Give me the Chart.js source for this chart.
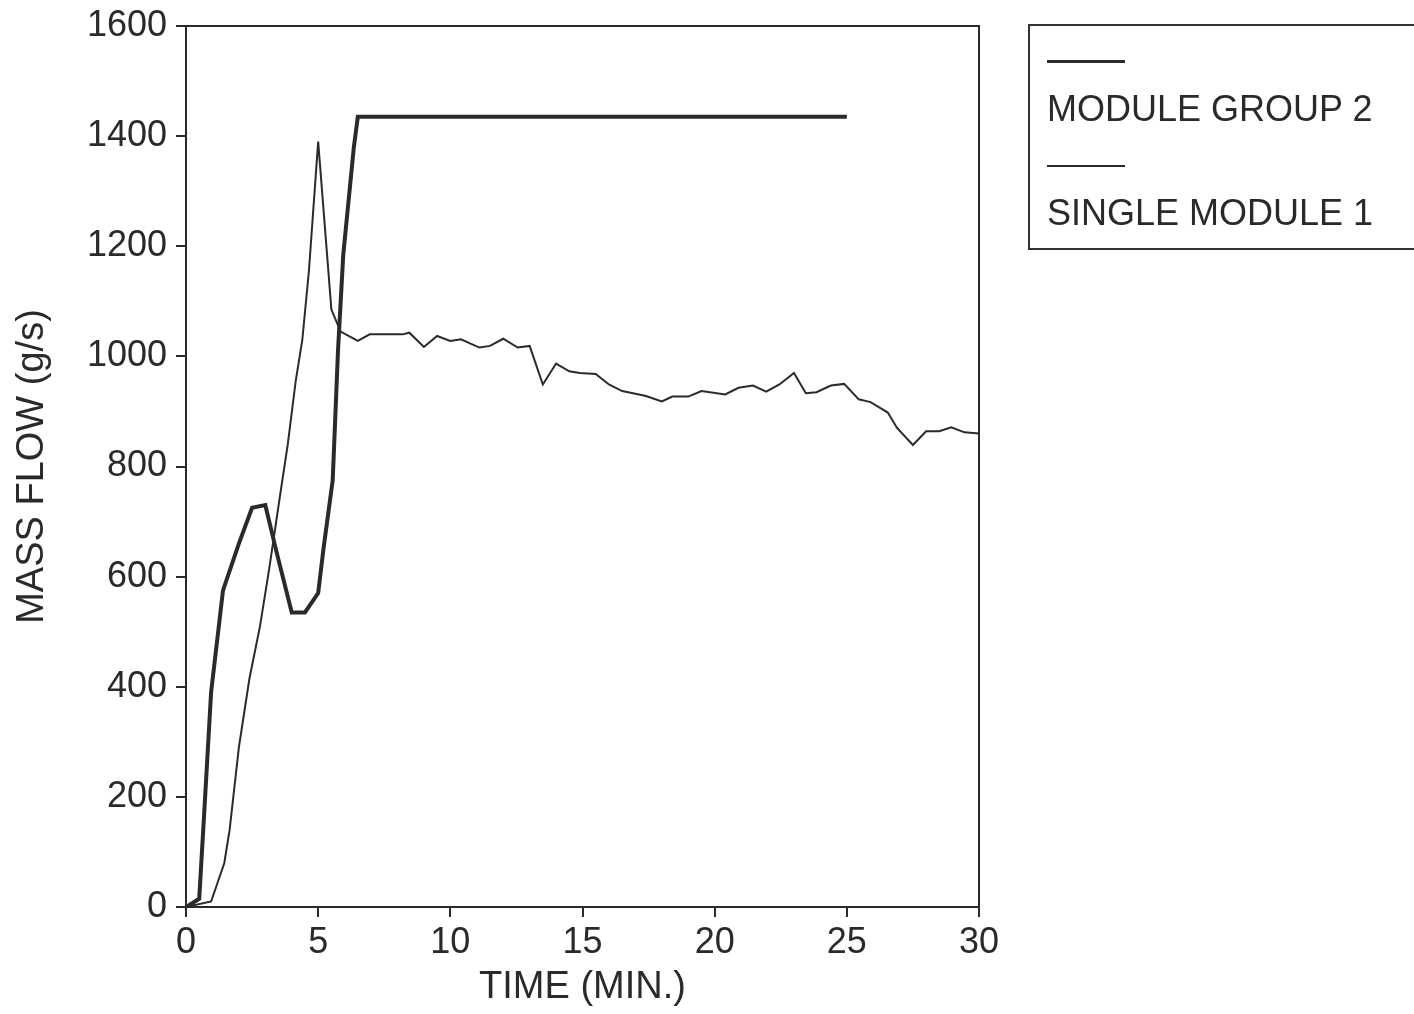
<!DOCTYPE html>
<html>
<head>
<meta charset="utf-8">
<script src="https://cdn.jsdelivr.net/npm/chart.js@4/dist/chart.umd.min.js"></script>
<style>
  html, body { margin: 0; padding: 0; background: #fff; overflow: hidden; }
  #wrap { position: relative; width: 1414px; height: 1014px; }
  #legend {
    position: absolute; left: 1028px; top: 24px; width: 420px; height: 226px;
    border: 2px solid #333; box-sizing: border-box;
    font-family: "Liberation Sans", Arial, sans-serif; font-size: 36px; color: #2a2a2a;
  }
  .swatch { position: absolute; left: 17px; width: 78px; background: #2a2a2a; }
  .label { position: absolute; left: 17px; white-space: nowrap; line-height: 1; }
</style>
</head>
<body>
<div id="wrap">
  <canvas id="chart" width="1414" height="1014"></canvas>
  <div id="legend"></div>
</div>
<script>
// 時間 (分) と質量流量 (g/s)
const groupTime = [0, 0.5, 0.7, 0.95, 1.4, 2.0, 2.5, 3.0, 3.45, 4.0, 4.5, 5.0, 5.2, 5.55, 5.75, 5.95, 6.35, 6.5, 25];
const groupFlow = [0, 15, 180, 390, 575, 660, 725, 730, 640, 535, 535, 570, 650, 775, 1010, 1185, 1380, 1435, 1435];

const singleTime = [0, 0.95, 1.45, 1.65, 2.0, 2.4, 2.8, 3.15, 3.55, 3.85, 4.15, 4.4, 4.65, 5.0, 5.5, 5.85,
  6.5, 6.95, 8.2, 8.45, 9.0, 9.5, 10.0, 10.4, 11.1, 11.5, 12.0, 12.55, 13.0, 13.5, 14.0, 14.5, 14.9,
  15.5, 16.0, 16.5, 17.0, 17.4, 18.0, 18.4, 19.0, 19.5, 20.4, 20.9, 21.45, 21.95, 22.45, 23.0, 23.45,
  23.85, 24.4, 24.9, 25.45, 25.9, 26.55, 26.9, 27.5, 28.0, 28.5, 28.95, 29.45, 30];
const singleFlow = [0, 10, 80, 140, 290, 415, 510, 615, 745, 840, 955, 1030, 1155, 1390, 1085, 1045,
  1028, 1040, 1040, 1043, 1017, 1037, 1028, 1031, 1016, 1019, 1032, 1016, 1019, 949, 987, 973, 970,
  968, 949, 937, 932, 928, 918, 927, 927, 937, 931, 943, 947, 936, 949, 970, 933,
  935, 947, 950, 922, 917, 898, 870, 839, 864, 864, 871, 862, 860];

const seriesLabels = ['MODULE GROUP 2', 'SINGLE MODULE 1'];
const xTicks = [0, 5, 10, 15, 20, 25, 30];
const yTicks = [0, 200, 400, 600, 800, 1000, 1200, 1400, 1600];

const ink = '#2a2a2a';
const font = '"Liberation Sans", Arial, sans-serif';

const toPoints = (xs, ys) => xs.map((x, i) => ({ x: x, y: ys[i] }));

// プロット枠
const framePlugin = {
  id: 'frame',
  afterDraw(chart) {
    const { ctx, chartArea: a } = chart;
    ctx.save();
    ctx.strokeStyle = ink;
    ctx.lineWidth = 2;
    ctx.strokeRect(a.left, a.top, a.right - a.left, a.bottom - a.top);
    ctx.restore();
  }
};

const chart = new Chart(document.getElementById('chart'), {
  type: 'scatter',
  data: {
    datasets: [
      { label: seriesLabels[0], data: toPoints(groupTime, groupFlow), showLine: true,
        borderColor: ink, borderWidth: 4, pointRadius: 0, tension: 0 },
      { label: seriesLabels[1], data: toPoints(singleTime, singleFlow), showLine: true,
        borderColor: ink, borderWidth: 2, pointRadius: 0, tension: 0 }
    ]
  },
  options: {
    responsive: false,
    animation: false,
    layout: { padding: { top: 26, right: 435, left: 0, bottom: 0 } },
    plugins: { legend: { display: false }, tooltip: { enabled: false } },
    scales: {
      x: {
        type: 'linear', min: 0, max: 30,
        afterBuildTicks: s => { s.ticks = xTicks.map(v => ({ value: v })); },
        afterFit: s => { s.height = 107; s.paddingLeft = 0; s.paddingRight = 0; },
        border: { color: ink, width: 2 },
        grid: { drawOnChartArea: false, color: ink, lineWidth: 2, tickLength: 10 },
        ticks: { color: ink, font: { family: font, size: 36 }, padding: 4, maxRotation: 0,
          callback: v => String(v) },
        title: { display: true, text: 'TIME (MIN.)', color: ink, font: { family: font, size: 38 }, padding: { top: 4 } }
      },
      y: {
        min: 0, max: 1600,
        afterBuildTicks: s => { s.ticks = yTicks.map(v => ({ value: v })); },
        afterFit: s => { s.width = 186; s.paddingTop = 0; s.paddingBottom = 0; },
        border: { color: ink, width: 2 },
        grid: { drawOnChartArea: false, color: ink, lineWidth: 2, tickLength: 10 },
        ticks: { color: ink, font: { family: font, size: 36 }, padding: 9,
          callback: v => String(v) },
        title: { display: true, text: 'MASS FLOW (g/s)', color: ink, font: { family: font, size: 38 }, padding: { top: 10 } }
      }
    }
  },
  plugins: [framePlugin]
});

// 凡例 (HTML)
const legend = document.getElementById('legend');
const legendRows = [
  { lineTop: 34, lineH: 3, textTop: 65 },
  { lineTop: 139, lineH: 2, textTop: 169 }
];
chart.data.datasets.forEach((ds, i) => {
  const r = legendRows[i];
  const sw = document.createElement('div');
  sw.className = 'swatch';
  sw.style.top = r.lineTop + 'px';
  sw.style.height = r.lineH + 'px';
  legend.appendChild(sw);
  const lb = document.createElement('div');
  lb.className = 'label';
  lb.style.top = r.textTop + 'px';
  lb.textContent = ds.label;
  legend.appendChild(lb);
});
</script>
</body>
</html>
